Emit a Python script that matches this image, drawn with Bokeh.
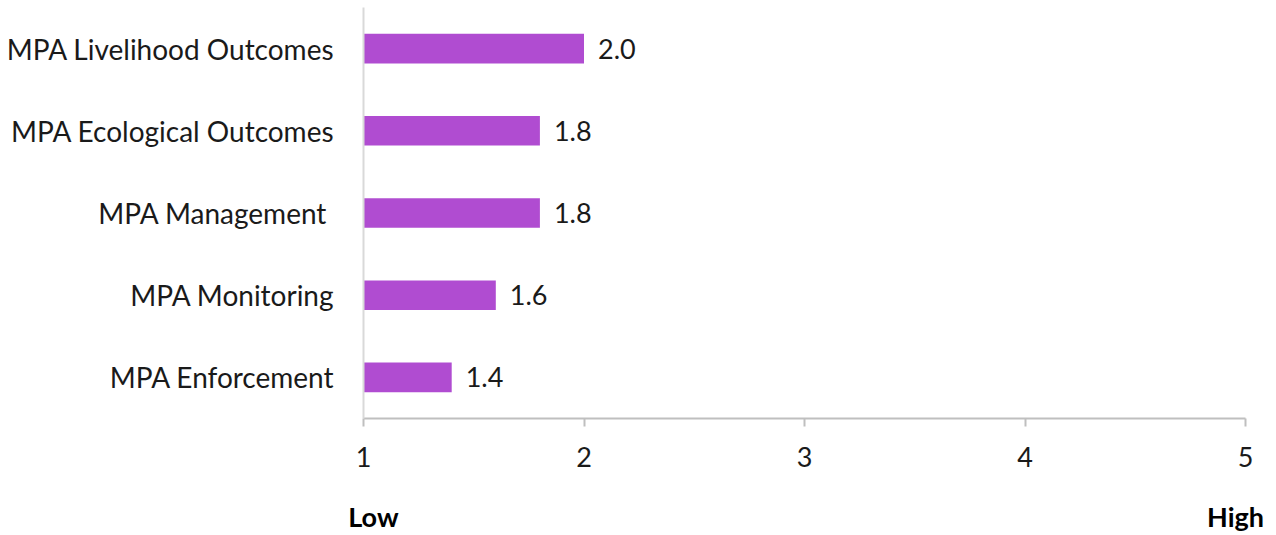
from bokeh.plotting import figure
from bokeh.models import ColumnDataSource, FactorRange, LinearAxis, FixedTicker, LabelSet
from bokeh.core.properties import value
from bokeh.embed import file_html
from bokeh.resources import INLINE

categories = ["MPA Enforcement", "MPA Monitoring", "MPA Management ",
              "MPA Ecological Outcomes", "MPA Livelihood Outcomes"]
values = [1.4, 1.6, 1.8, 1.8, 2.0]
value_labels = ["1.4", "1.6", "1.8", "1.8", "2.0"]
x_ticks = [1, 2, 3, 4, 5]
end_labels = ["Low", "High"]

FONT = "Lato"
FS = "27px"
TXT = "#1a1a1a"
GRID = "#bfbfbf"
BAR = "#b04cd1"

src = ColumnDataSource(dict(cat=categories, val=values, lab=value_labels,
                            base=[1] * len(values)))

p = figure(width=1276, height=535, y_range=FactorRange(*categories),
           x_range=(1, 5), output_backend="svg", toolbar_location=None,
           min_border_left=363, min_border_right=31, min_border_top=7,
           min_border_bottom=115)
p.outline_line_color = None
p.grid.grid_line_color = None

p.hbar(y="cat", left="base", right="val", height=0.36, source=src,
       fill_color=BAR, line_color=None)

labels = LabelSet(x="val", y="cat", text="lab", source=src, x_offset=14,
                  text_baseline="middle", text_font=value(FONT), text_font_size=FS,
                  text_color=TXT)
p.add_layout(labels)

# x axis
xa = p.xaxis[0]
xa.ticker = FixedTicker(ticks=x_ticks)
xa.axis_line_color = GRID
xa.axis_line_width = 2
xa.major_tick_line_color = GRID
xa.major_tick_line_width = 2
xa.major_tick_in = 0
xa.major_tick_out = 8
xa.minor_tick_line_color = None
xa.major_label_text_font = FONT
xa.major_label_text_font_size = FS
xa.major_label_text_color = TXT
xa.major_label_standoff = 20

# y axis
ya = p.yaxis[0]
ya.axis_line_color = "#d9d9d9"
ya.axis_line_width = 2
ya.major_tick_line_color = None
ya.minor_tick_line_color = None
ya.major_label_text_font = FONT
ya.major_label_text_font_size = "28px"
ya.major_label_text_color = TXT
ya.major_label_standoff = 23

# Low / High end labels
lh = LinearAxis(ticker=FixedTicker(ticks=[1.045, 4.955]),
                major_label_overrides={1.045: end_labels[0], 4.955: end_labels[1]})
lh.axis_line_color = None
lh.major_tick_line_color = None
lh.minor_tick_line_color = None
lh.major_label_text_font = FONT
lh.major_label_text_font_size = FS
lh.major_label_text_font_style = "bold"
lh.major_label_text_color = "#000000"
lh.major_label_standoff = 24
p.add_layout(lh, "below")

open("out.html", "w").write(file_html(p, INLINE))
